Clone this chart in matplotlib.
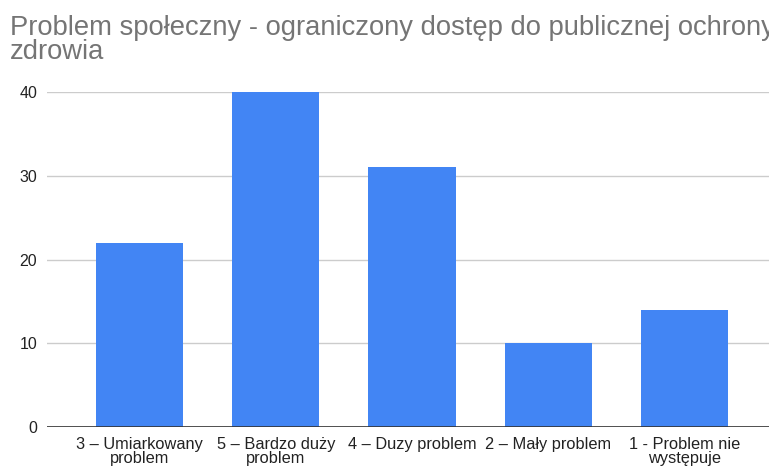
import matplotlib.pyplot as plt
import numpy as np

plt.rcParams['font.family'] = ['Liberation Sans', 'DejaVu Sans']

categories = ["3 – Umiarkowany\nproblem", "5 – Bardzo duży\nproblem", "4 – Duzy problem",
              "2 – Mały problem", "1 - Problem nie\nwystępuje"]
values = [22, 40, 31, 10, 14]
yticks = [0, 10, 20, 30, 40]

fig = plt.figure(figsize=(7.69, 4.67), dpi=100)
ax = fig.add_axes([47 / 769, 1 - 427 / 467, 1 - 47 / 769, (427 - 92) / 467])

x = np.arange(len(categories))
ax.bar(x, values, width=0.64, color="#4285f4", zorder=3)

ax.set_ylim(0, 40)
ax.set_xlim(-0.68, 4.62)
ax.set_yticks(yticks)
ax.set_xticks(x)
ax.set_xticklabels(categories, fontsize=11.8, color="#222222", linespacing=0.95)
ax.tick_params(axis='y', labelsize=11.5, labelcolor="#222222", length=0, pad=7)
ax.tick_params(axis='x', length=0, pad=7)

ax.grid(axis='y', color="#cccccc", linewidth=1, zorder=0)
for s in ax.spines.values():
    s.set_visible(False)
ax.axhline(0, color="#333333", linewidth=1.2, zorder=4)

# title is cut at the right edge in the original too
fig.text(10 / 769, 1 - 15 / 467, "Problem społeczny - ograniczony dostęp do publicznej ochrony\nzdrowia",
         fontsize=19.7, color="#757575", va='top', ha='left', linespacing=0.92)

fig.savefig("out.png", dpi=100)
